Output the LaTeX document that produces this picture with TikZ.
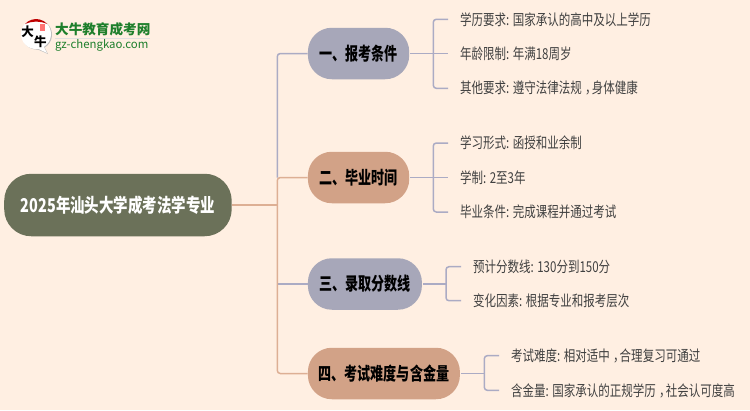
\documentclass[tikz,border=0pt]{standalone}
\usepackage{fontspec}
\setmainfont{Noto Sans CJK SC}
\newfontfamily\leaffont[FakeStretch=0.767]{Noto Sans CJK SC}
\newfontfamily\branchfont[FakeStretch=0.725]{Noto Sans CJK SC}
\newfontfamily\rootfont[FakeStretch=0.76]{Noto Sans CJK SC}
\usetikzlibrary{calc}
\definecolor{bgc}{HTML}{FFEFE2}
\definecolor{rootc}{HTML}{6B7159}
\definecolor{bluec}{HTML}{A7A7B9}
\definecolor{orangec}{HTML}{D2A287}
\definecolor{linkb}{HTML}{ABABC4}
\definecolor{linko}{HTML}{DDAF94}
\definecolor{leaft}{HTML}{404040}
\definecolor{logog}{HTML}{1E7F2C}
\newcommand{\cnComma}{\hspace*{0.22em}，\hspace*{-0.33em}}
\tikzset{
  rootbox/.style={fill=rootc,rounded corners=27pt,minimum width=227.5pt,minimum height=62.5pt,inner sep=0pt,text=white,font=\rootfont\fontsize{19}{20}\selectfont\bfseries,anchor=west},
  branchbox/.style={rounded corners=24pt,minimum height=51.5pt,inner sep=0pt,text=black,font=\branchfont\fontsize{18}{20}\selectfont\bfseries,anchor=west},
  leaftext/.style={anchor=west,inner sep=0pt,text=leaft,font=\leaffont\fontsize{15}{17}\selectfont},
  linkB/.style={draw=linkb,line width=1.5pt,rounded corners=3pt},
  linkO/.style={draw=linko,line width=1.5pt,rounded corners=3pt},
  logomark/.style={inner sep=0pt,text=black,font=\fontsize{12.5}{13}\selectfont\bfseries},
}
\begin{document}
\begin{tikzpicture}[x=1pt,y=-1pt]
\useasboundingbox (0,0) rectangle (750,410);
\fill[bgc] (0,0) rectangle (750,410);
% logo
\fill[black!25] (37,34.6) circle (15);
\fill[black!25] (30,46) -- (48,54) -- (43,44) -- cycle;
\fill[white] (36,34) circle (15);
\fill[white] (30,45) -- (47,53) -- (42,43) -- cycle;
\fill[red!75!black] (25,24) arc (222:318:15) to[bend right=22] cycle;
\fill[red!55!white] (39.5,24) rectangle (45,31);
\node[logomark] (logob) at (27.5,32) {大};
\node[logomark] (logoc) at (40.5,42) {牛};
\node[anchor=west,inner sep=0pt,text=logog,font=\fontsize{13.6}{15}\selectfont\bfseries] (logot) at (55,29.5) {大牛教育成考网};
\draw[black!12,line width=0.8pt] (55,38.5) -- (150,38.5);
\node[anchor=west,inner sep=0pt,text=logog,font=\fontsize{11.4}{12}\selectfont] (logou) at (55,45) {gz-chengkao.com};
% nodes
\node[rootbox] (root) at (4,205) {2025年汕头大学成考法学专业};
\node[branchbox,fill=bluec,minimum width=101.3pt] (b1) at (307.7,53.5) {一、报考条件};
\node[branchbox,fill=orangec,minimum width=101.3pt] (b2) at (307.7,177.5) {二、毕业时间};
\node[branchbox,fill=bluec,minimum width=114pt] (b3) at (307.7,284) {三、录取分数线};
\node[branchbox,fill=orangec,minimum width=152pt] (b4) at (307.7,373.5) {四、考试难度与含金量};
% leaves
\node[leaftext] (l11) at (460,19.3) {学历要求: 国家承认的高中及以上学历};
\node[leaftext] (l12) at (460,53.5) {年龄限制: 年满18周岁};
\node[leaftext] (l13) at (460,88) {其他要求: 遵守法律法规\cnComma 身体健康};
\node[leaftext] (l21) at (460,143) {学习形式: 函授和业余制};
\node[leaftext] (l22) at (460,177.5) {学制: 2至3年};
\node[leaftext] (l23) at (460,212) {毕业条件: 完成课程并通过考试};
\node[leaftext] (l31) at (473,267) {预计分数线: 130分到150分};
\node[leaftext] (l32) at (473,301) {变化因素: 根据专业和报考层次};
\node[leaftext] (l41) at (511,356) {考试难度: 相对适中\cnComma 合理复习可通过};
\node[leaftext] (l42) at (511,390.5) {含金量: 国家承认的正规学历\cnComma 社会认可度高};
% trunk
\coordinate (tr) at (277.3,205);
\draw[linkO] (root.east) -- (tr);
\draw[linkB] (b1.west) -- (277.3,53.5) -- (277.3,177.5);
\draw[linkB] (277.3,284) -- (b3.west);
\draw[linkO] (b2.west) -- (277.3,177.5) -- (277.3,373.5) -- (b4.west);
% leaf links
\foreach \b/\bx/\ex/\ty/\by/\ly in {b1/433.3/448/19.3/88.3/53.5, b2/433.3/448/143/212/177.5, b3/446/461/266.7/300.7/284, b4/484.3/499/355.7/390.3/373.5}{
  \draw[linkB] ($(\b.east)+(1,0)$) -- (\bx,\ly);
  \draw[linkB] (\ex,\ty) -- (\bx,\ty) -- (\bx,\by) -- (\ex,\by);
}
\draw[linkB] (433.3,53.5) -- (448,53.5);
\draw[linkB] (433.3,177.5) -- (448,177.5);
\end{tikzpicture}
\end{document}
